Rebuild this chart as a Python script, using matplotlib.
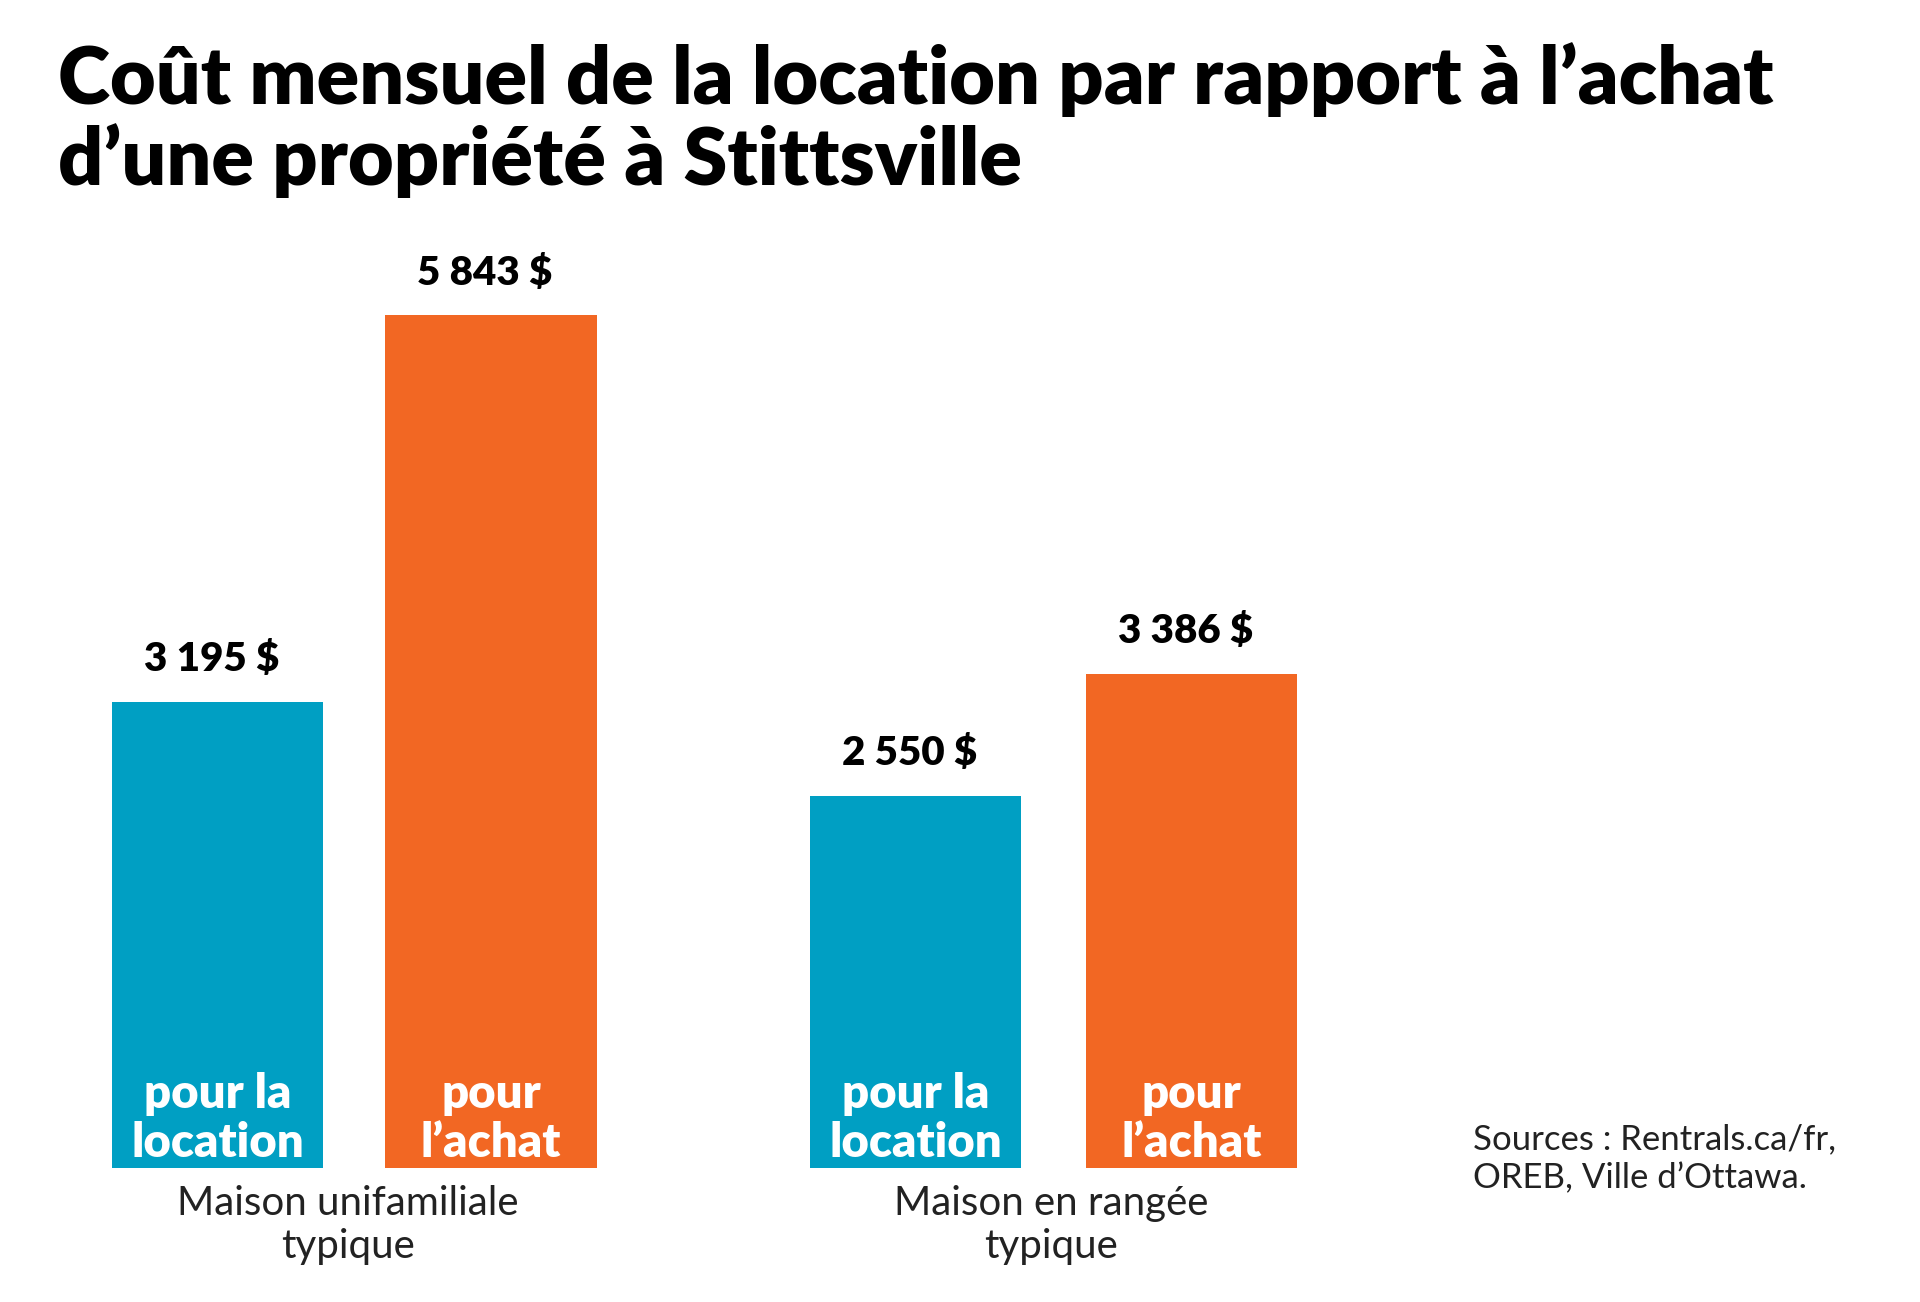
import matplotlib.pyplot as plt

# Data
groups = ['Maison unifamiliale\ntypique', 'Maison en rangée\ntypique']
rent = [3195, 2550]
buy = [5843, 3386]
rent_labels = ['3 195 $', '2 550 $']
buy_labels = ['5 843 $', '3 386 $']

BLUE = '#009fc3'
ORANGE = '#f26723'

fig = plt.figure(figsize=(19.2, 13.02), dpi=100)
# axes in display-pixel units (reference at ~1560 wide), baseline near bottom
ax = fig.add_axes([0, 0.103, 1, 0.655])
ax.set_xlim(0, 1562)
ax.set_ylim(0, 5843)
ax.axis('off')

rent_x = [177, 745]
buy_x = [399.5, 969.5]
w = 172
ax.bar(rent_x, rent, width=w, color=BLUE)
ax.bar(buy_x, buy, width=w, color=ORANGE)

for xs, vals, labs, inner in [(rent_x, rent, rent_labels, 'pour la\nlocation'),
                              (buy_x, buy, buy_labels, 'pour\nl\u2019achat')]:
    for x, v, lab in zip(xs, vals, labs):
        ax.text(x - 5, v + 160, lab, ha='center', va='bottom', fontsize=29,
                fontfamily='Lato', fontweight='heavy', color='black')
        ax.text(x, 20, inner, ha='center', va='bottom', fontsize=34,
                fontfamily='Lato', fontweight='heavy', color='white', linespacing=1.15)

for x, g in zip([283, 855], groups):
    ax.text(x, -120, g, ha='center', va='top', fontsize=29, fontfamily='Lato',
            color='#222222', linespacing=1.2, clip_on=False)

fig.text(0.03, 0.968, 'Coût mensuel de la location par rapport à l\u2019achat\nd\u2019une propriété à Stittsville',
         ha='left', va='top', fontsize=57, fontfamily='Lato', fontweight='heavy',
         color='black', linespacing=1.1)

fig.text(0.767, 0.137, 'Sources : Rentrals.ca/fr,\nOREB, Ville d\u2019Ottawa.', ha='left', va='top',
         fontsize=25, fontfamily='Lato', color='#222222', linespacing=1.25)

fig.savefig('out.png', dpi=100, facecolor='white')
